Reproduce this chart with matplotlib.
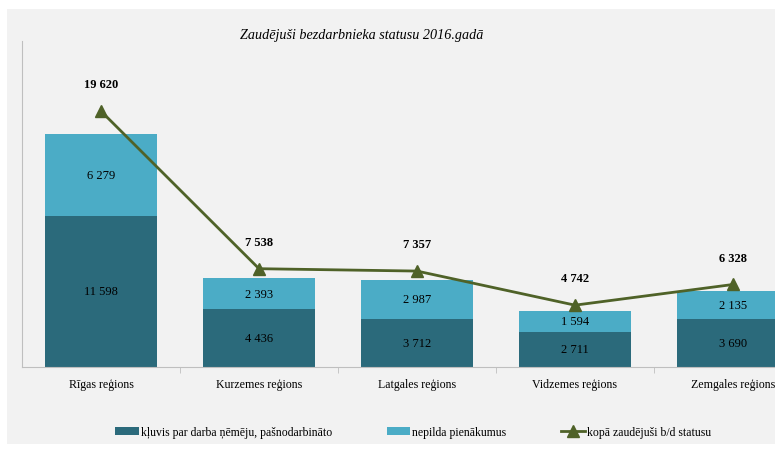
import matplotlib
matplotlib.use("Agg")
import matplotlib.pyplot as plt
from matplotlib.patches import Rectangle
import numpy as np

plt.rcParams['font.family'] = ['Liberation Serif', 'DejaVu Serif']

# Data
regions = ["Rīgas reģions", "Kurzemes reģions", "Latgales reģions", "Vidzemes reģions", "Zemgales reģions"]
employed = [11598, 4436, 3712, 2711, 3690]      # kļuvis par darba ņēmēju, pašnodarbināto
not_fulfil = [6279, 2393, 2987, 1594, 2135]     # nepilda pienākumus
total = [19620, 7538, 7357, 4742, 6328]         # kopā zaudējuši b/d statusu

c_dark = "#2b6a7b"
c_light = "#4bacc6"
c_line = "#4f6228"
bg = "#f2f2f2"


def fmt(v):
    return "{:,}".format(v).replace(",", " ")


fig = plt.figure(figsize=(7.75, 4.52), dpi=100)
fig.patch.set_facecolor("white")
# gray chart area behind everything
fig.patches.append(Rectangle((7 / 775, 7 / 452), 1 - 7 / 775, 1 - 17 / 452,
                             transform=fig.transFigure, facecolor=bg, edgecolor="none", zorder=-5))

ax = fig.add_axes([22 / 775, 1 - 368 / 452, 1 - 22 / 775, (368 - 42) / 452])
ax.set_facecolor(bg)

x = np.arange(len(regions))
w = 0.71
ax.bar(x, employed, w, color=c_dark, label="kļuvis par darba ņēmēju, pašnodarbināto", zorder=2)
ax.bar(x, not_fulfil, w, bottom=employed, color=c_light, label="nepilda pienākumus", zorder=2)
ax.plot(x, total, color=c_line, lw=2, marker="^", ms=8, label="kopā zaudējuši b/d statusu", zorder=3)

for i in range(len(regions)):
    ax.text(x[i], employed[i] / 2, fmt(employed[i]), ha="center", va="center", fontsize=9, color="black", zorder=4)
    ax.text(x[i], employed[i] + not_fulfil[i] / 2, fmt(not_fulfil[i]), ha="center", va="center",
            fontsize=9, color="black", zorder=4)
    ax.annotate(fmt(total[i]), (x[i], total[i]), xytext=(0, 15), textcoords="offset points",
                ha="center", va="bottom", fontsize=9, fontweight="bold", zorder=4)

ax.set_xlim(-0.5, (775 - 22) / 158 - 0.5)
ax.set_ylim(0, 25000)
ax.set_yticks([])
ax.set_xticks(x)
ax.set_xticklabels(regions, fontsize=8.6)
ax.set_xticks(np.arange(0.5, 4.5, 1), minor=True)
ax.tick_params(axis="x", which="major", length=0, pad=8)
ax.tick_params(axis="x", which="minor", length=4, color="#bfbfbf")
for s in ["top", "right"]:
    ax.spines[s].set_visible(False)
ax.spines["left"].set_color("#bfbfbf")
ax.spines["bottom"].set_color("#bfbfbf")

fig.text(362 / 775, 1 - 35 / 452, "Zaudējuši bezdarbnieka statusu 2016.gadā", ha="center", va="center",
         fontsize=10.2, style="italic")

h, l = ax.get_legend_handles_labels()
order = [1, 2, 0]
fig.legend([h[i] for i in order], [l[i] for i in order], loc="center", bbox_to_anchor=(413 / 775, 1 - 433 / 452),
           ncol=3, frameon=False, fontsize=8.5, handlelength=2.0, handletextpad=0.2, columnspacing=4.6)

fig.savefig("out.png", dpi=100, facecolor="white")
